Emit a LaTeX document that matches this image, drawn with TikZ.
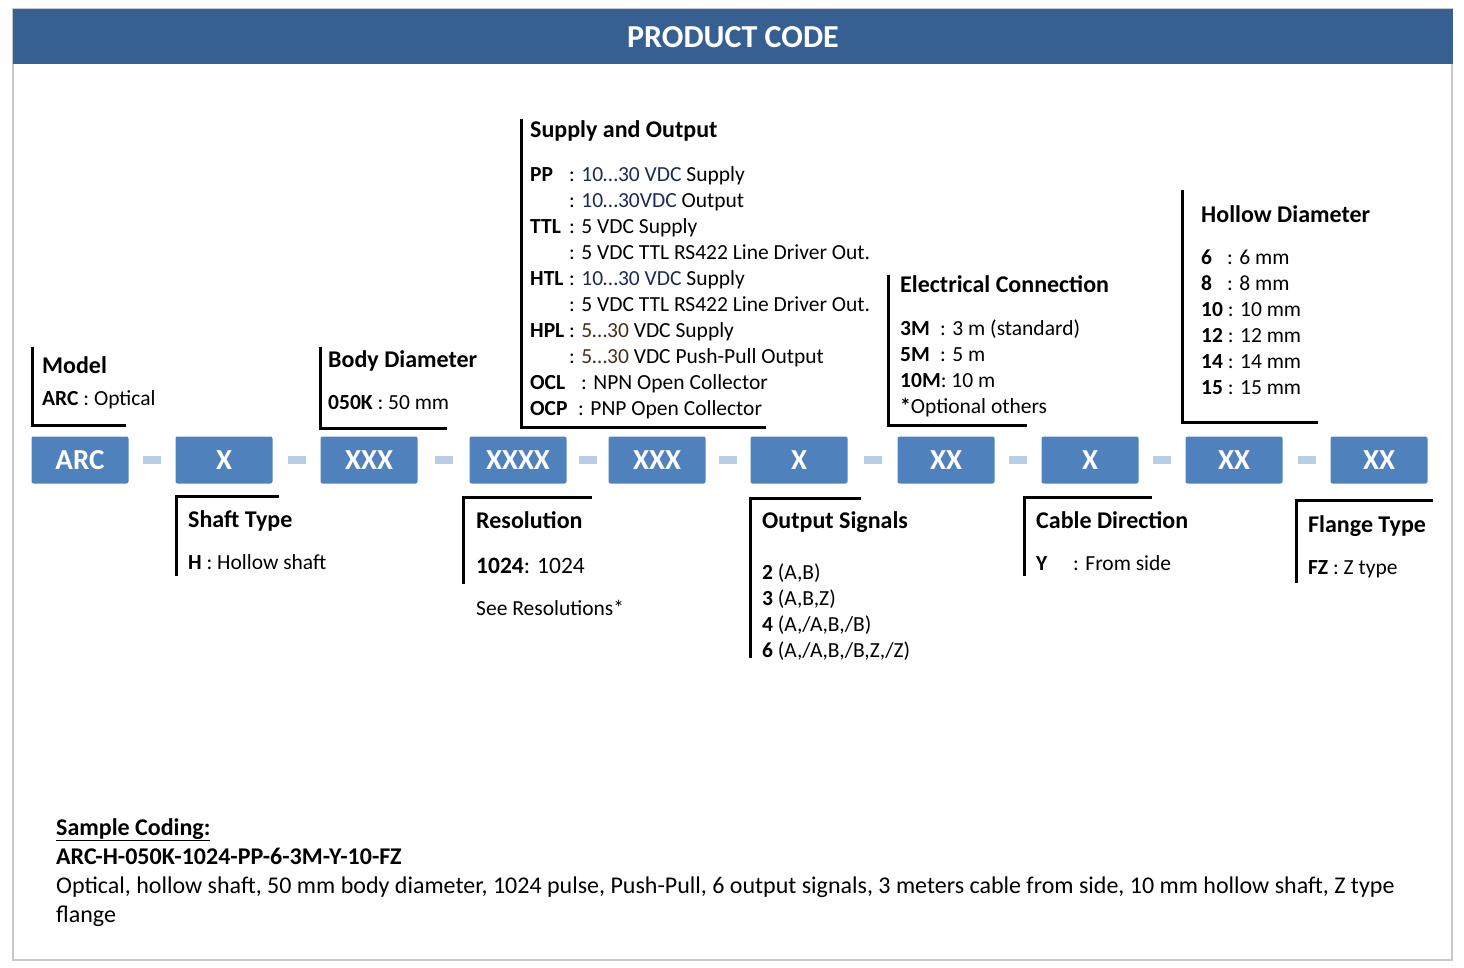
\documentclass[tikz,border=0pt]{standalone}
\usepackage{fontspec}
\setmainfont{Carlito}
\usepackage{tikz}
\usetikzlibrary{positioning,calc}
\definecolor{codetitle}{RGB}{55,96,146}
\definecolor{codeblue}{RGB}{79,129,189}
\definecolor{codedash}{RGB}{185,205,229}
\definecolor{codeframe}{RGB}{200,200,200}
\definecolor{codenavy}{RGB}{28,42,84}
\definecolor{codebrown}{RGB}{72,46,22}
\newcommand\codekey[2][39pt]{\makebox[#1][l]{\textbf{#2}}}
\newcommand\navy[1]{\textcolor{codenavy}{#1}}
\newcommand\brown[1]{\textcolor{codebrown}{#1}}

\begin{document}
\begin{tikzpicture}[
  x=1pt, y=-1pt,
  code/.style={fill=codeblue, rounded corners=2pt, minimum width=97pt, minimum height=47pt, inner sep=0pt, text=white, font=\fontsize{29}{32}\selectfont\bfseries},
  sep/.style={fill=codedash, minimum width=18pt, minimum height=8pt, inner sep=0pt},
  head/.style={anchor=base west, inner sep=0pt, font=\fontsize{24}{28}\selectfont\bfseries},
  info/.style={anchor=base west, inner sep=0pt, align=left, font=\fontsize{21.5}{26}\selectfont},
  brk/.style={line width=3pt, black}
]
\useasboundingbox (0,0) rectangle (1464,968);

% frame and title bar
\draw[codeframe, line width=1.5pt] (13,9) rectangle (1452,960);
\fill[codetitle] (13,9) rectangle (1453,64);
\node[text=white, font=\fontsize{32}{36}\selectfont\bfseries] (title) at (733,37) {PRODUCT CODE};

% code boxes
\foreach \x/\t/\n in {80/ARC/model, 224/X/shaft, 369/XXX/body, 518/XXXX/res, 657/XXX/supply,
                      799/X/signals, 946/XX/elec, 1090/X/cable, 1234/XX/hollow, 1379/XX/flange}
  \node[code] (\n) at (\x,460) {\t};
\foreach \a/\b in {model/shaft, shaft/body, body/res, res/supply, supply/signals,
                   signals/elec, elec/cable, cable/hollow, hollow/flange}
  \node[sep] (sep-\a) at ($(\a.east)!0.5!(\b.west)$) {};

% upper brackets (multi-line texts sit on their last baseline)
\draw[brk] (32,347) |- (126,425);
\draw[brk] (320,347) |- (447,428);
\draw[brk] (521,119) |- (766,427);
\draw[brk] (888,275) |- (1027,425);
\draw[brk] (1182,190) |- (1318,422);

\node[head] (model-h) at (42,373) {Model};
\node[info] (model-t) at (42,405) {\textbf{ARC} : Optical};

\node[head] (body-h) at (328,367) {Body Diameter};
\node[info] (body-t) at (328,409) {\textbf{050K} : 50 mm};

\node[head] (supply-h) at (530,138) {Supply and Output};
\node[info] (supply-t) at (530,415) {\codekey{PP}: \navy{10…30 VDC} Supply\\
  \codekey{}: \navy{10…30VDC} Output\\
  \codekey{TTL}: 5 VDC Supply\\
  \codekey{}: 5 VDC TTL RS422 Line Driver Out.\\
  \codekey{HTL}: \navy{10…30 VDC} Supply\\
  \codekey{}: 5 VDC TTL RS422 Line Driver Out.\\
  \codekey{HPL}: \brown{5…30} VDC Supply\\
  \codekey{}: \brown{5…30} VDC Push-Pull Output\\
  \codekey[51pt]{OCL}: NPN Open Collector\\
  \codekey[48pt]{OCP}: PNP Open Collector};

\node[head] (elec-h) at (900,292) {Electrical Connection};
\node[info] (elec-t) at (900,413) {\codekey[40pt]{3M}: 3 m (standard)\\
  \codekey[40pt]{5M}: 5 m\\
  \textbf{10M}: 10 m\\
  \textbf{*}Optional others};

\node[head] (hollow-h) at (1201,223) {Hollow Diameter};
\node[info] (hollow-t) at (1201,394) {\codekey[26pt]{6}: 6 mm\\
  \codekey[26pt]{8}: 8 mm\\
  \textbf{10} : 10 mm\\
  \textbf{12} : 12 mm\\
  \textbf{14} : 14 mm\\
  \textbf{15} : 15 mm};

% lower brackets
\draw[brk] (279,496) -| (176,576);
\draw[brk] (592,497) -| (463,584);
\draw[brk] (861,498) -| (750,658);
\draw[brk] (1152,497) -| (1024,576);
\draw[brk] (1433,500) -| (1296,583);

\node[head] (shaft-h) at (188,527) {Shaft Type};
\node[info] (shaft-t) at (188,569) {\textbf{H} : Hollow shaft};

\node[head] (res-h) at (476,528) {Resolution};
\node[info, font=\fontsize{23.5}{28}\selectfont] (res-t) at (476,573) {\textbf{1024}: 1024};
\node[info] (res-n) at (476,615) {See Resolutions*};

\node[head] (signals-h) at (762,528) {Output Signals};
\node[info] (signals-t) at (762,657) {\textbf{2} (A,B)\\
  \textbf{3} (A,B,Z)\\
  \textbf{4} (A,/A,B,/B)\\
  \textbf{6} (A,/A,B,/B,Z,/Z)};

\node[head] (cable-h) at (1036,528) {Cable Direction};
\node[info] (cable-t) at (1036,570) {\codekey[37pt]{Y}: From side};

\node[head] (flange-h) at (1308,532) {Flange Type};
\node[info] (flange-t) at (1308,574) {\textbf{FZ} : Z type};

% sample coding
\node[info, font=\fontsize{24}{29}\selectfont] (sample) at (56,922) {\textbf{\underline{Sample Coding:}}\\
  \textbf{ARC-H-050K-1024-PP-6-3M-Y-10-FZ}\\
  Optical, hollow shaft, 50 mm body diameter, 1024 pulse, Push-Pull, 6 output signals, 3 meters cable from side, 10 mm hollow shaft, Z type\\
  flange};
\end{tikzpicture}
\end{document}
